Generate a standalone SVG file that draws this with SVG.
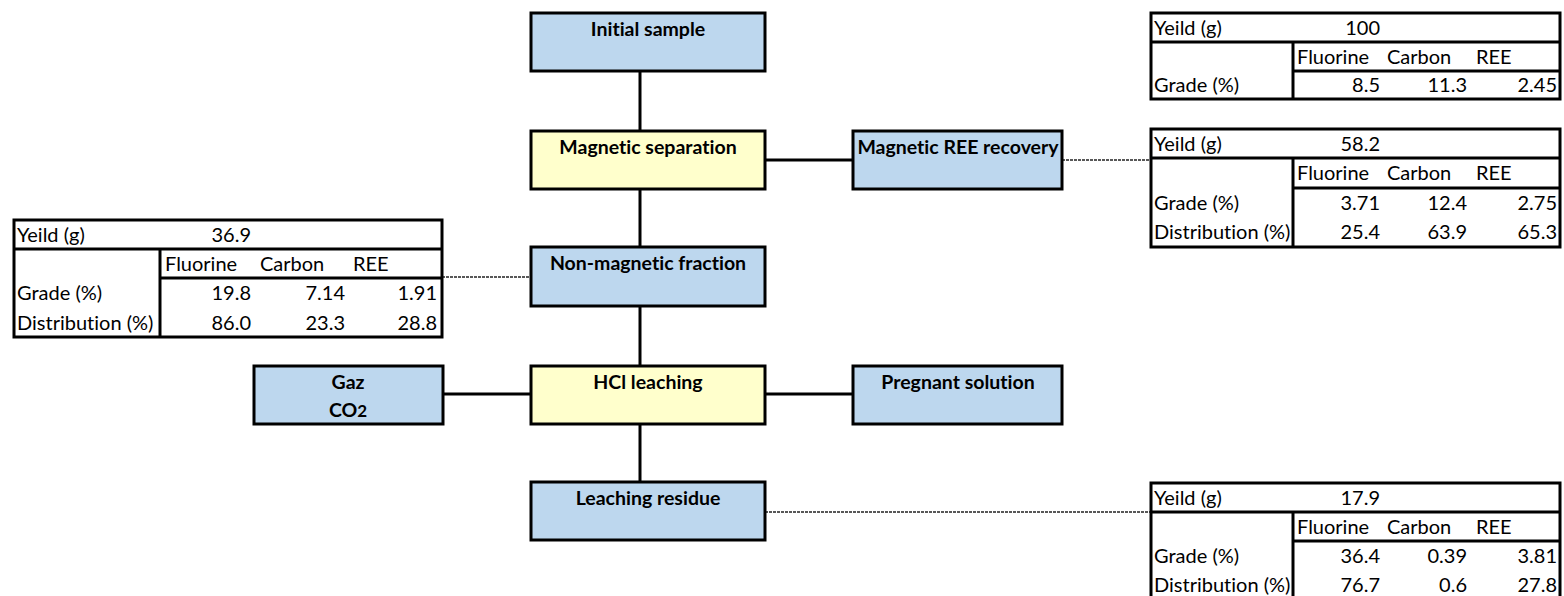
<svg xmlns="http://www.w3.org/2000/svg" width="1564" height="596" viewBox="0 0 1564 596">
<style>
.bx{stroke:#000;stroke-width:3}
.blue{fill:#BDD7EE}
.yel{fill:#FFFFCC}
.lbl{font-family:Lato,"Liberation Sans",sans-serif;font-weight:bold;font-size:19.5px;text-anchor:middle;fill:#000;font-variant-ligatures:none}
.conn{stroke:#000;stroke-width:3;fill:none}
.dash{stroke:#222;stroke-width:1.6;stroke-dasharray:3 1;fill:none}
.tb{fill:none;stroke:#000;stroke-width:3}
.t{font-family:Lato,"Liberation Sans",sans-serif;font-size:20px;fill:#000;font-variant-ligatures:none}
.r{text-anchor:end}
</style>
<rect width="1564" height="596" fill="#fff"/>
<g id="connectors">
<line class="conn" x1="640" y1="71" x2="640" y2="131"/>
<line class="conn" x1="640" y1="189" x2="640" y2="247"/>
<line class="conn" x1="640" y1="306" x2="640" y2="366"/>
<line class="conn" x1="640" y1="424" x2="640" y2="482"/>
<line class="conn" x1="765" y1="160" x2="853" y2="160"/>
<line class="conn" x1="443" y1="394" x2="531" y2="394"/>
<line class="conn" x1="765" y1="394" x2="853" y2="394"/>
<line class="dash" x1="442" y1="277" x2="531" y2="277"/>
<line class="dash" x1="1062" y1="160" x2="1151" y2="160"/>
<line class="dash" x1="765" y1="512" x2="1151" y2="512"/>
</g>
<g id="initial-sample"><rect class="bx blue" x="531" y="13" width="234" height="58"/><text class="lbl" x="648" y="36">Initial sample</text></g>
<g id="magnetic-separation"><rect class="bx yel" x="531" y="131" width="234" height="58"/><text class="lbl" x="648" y="154">Magnetic separation</text></g>
<g id="non-magnetic-fraction"><rect class="bx blue" x="531" y="247" width="234" height="59"/><text class="lbl" x="648" y="270">Non-magnetic fraction</text></g>
<g id="hcl-leaching"><rect class="bx yel" x="531" y="366" width="234" height="58"/><text class="lbl" x="648" y="389">HCl leaching</text></g>
<g id="leaching-residue"><rect class="bx blue" x="531" y="482" width="234" height="58"/><text class="lbl" x="648" y="505">Leaching residue</text></g>
<g id="magnetic-ree-recovery"><rect class="bx blue" x="853" y="131" width="209" height="58"/><text class="lbl" x="958" y="154">Magnetic REE recovery</text></g>
<g id="pregnant-solution"><rect class="bx blue" x="853" y="366" width="209" height="58"/><text class="lbl" x="958" y="389">Pregnant solution</text></g>
<g id="gaz-co2"><rect class="bx blue" x="254" y="366" width="189" height="58"/><text class="lbl" x="348" y="389">Gaz</text><text class="lbl" x="348" y="417">CO<tspan font-size="17">2</tspan></text></g>

<g id="table-initial">
<rect class="tb" x="1151" y="13" width="409" height="86"/>
<line class="tb" x1="1151" y1="42" x2="1560" y2="42"/>
<line class="tb" x1="1293" y1="42" x2="1293" y2="99"/>
<line class="tb" x1="1293" y1="71" x2="1560" y2="71"/>
<text class="t" x="1154" y="35">Yeild (g)</text><text class="t r" x="1380" y="35">100</text>
<text class="t" x="1297" y="64">Fluorine</text><text class="t" x="1387" y="64">Carbon</text><text class="t" x="1476" y="64">REE</text>
<text class="t" x="1154" y="92">Grade (%)</text><text class="t r" x="1380" y="92">8.5</text><text class="t r" x="1467" y="92">11.3</text><text class="t r" x="1557" y="92">2.45</text>
</g>

<g id="table-magnetic">
<rect class="tb" x="1151" y="129" width="409" height="118"/>
<line class="tb" x1="1151" y1="158" x2="1560" y2="158"/>
<line class="tb" x1="1293" y1="158" x2="1293" y2="247"/>
<line class="tb" x1="1293" y1="188" x2="1560" y2="188"/>
<text class="t" x="1154" y="151">Yeild (g)</text><text class="t r" x="1380" y="151">58.2</text>
<text class="t" x="1297" y="180">Fluorine</text><text class="t" x="1387" y="180">Carbon</text><text class="t" x="1476" y="180">REE</text>
<text class="t" x="1154" y="210">Grade (%)</text><text class="t r" x="1380" y="210">3.71</text><text class="t r" x="1467" y="210">12.4</text><text class="t r" x="1557" y="210">2.75</text>
<text class="t" x="1154" y="239">Distribution (%)</text><text class="t r" x="1380" y="239">25.4</text><text class="t r" x="1467" y="239">63.9</text><text class="t r" x="1557" y="239">65.3</text>
</g>

<g id="table-non-magnetic">
<rect class="tb" x="14" y="220" width="428" height="117"/>
<line class="tb" x1="14" y1="249" x2="442" y2="249"/>
<line class="tb" x1="160" y1="249" x2="160" y2="337"/>
<line class="tb" x1="160" y1="278" x2="442" y2="278"/>
<text class="t" x="17" y="242">Yeild (g)</text><text class="t r" x="251" y="242">36.9</text>
<text class="t" x="165" y="271">Fluorine</text><text class="t" x="260" y="271">Carbon</text><text class="t" x="353" y="271">REE</text>
<text class="t" x="17" y="300">Grade (%)</text><text class="t r" x="251" y="300">19.8</text><text class="t r" x="345" y="300">7.14</text><text class="t r" x="437" y="300">1.91</text>
<text class="t" x="17" y="330">Distribution (%)</text><text class="t r" x="251" y="330">86.0</text><text class="t r" x="345" y="330">23.3</text><text class="t r" x="437" y="330">28.8</text>
</g>

<g id="table-residue">
<rect class="tb" x="1151" y="483" width="409" height="120"/>
<line class="tb" x1="1151" y1="512" x2="1560" y2="512"/>
<line class="tb" x1="1293" y1="512" x2="1293" y2="603"/>
<line class="tb" x1="1293" y1="541" x2="1560" y2="541"/>
<text class="t" x="1154" y="505">Yeild (g)</text><text class="t r" x="1380" y="505">17.9</text>
<text class="t" x="1297" y="534">Fluorine</text><text class="t" x="1387" y="534">Carbon</text><text class="t" x="1476" y="534">REE</text>
<text class="t" x="1154" y="563">Grade (%)</text><text class="t r" x="1380" y="563">36.4</text><text class="t r" x="1467" y="563">0.39</text><text class="t r" x="1557" y="563">3.81</text>
<text class="t" x="1154" y="592">Distribution (%)</text><text class="t r" x="1380" y="592">76.7</text><text class="t r" x="1467" y="592">0.6</text><text class="t r" x="1557" y="592">27.8</text>
</g>
</svg>
